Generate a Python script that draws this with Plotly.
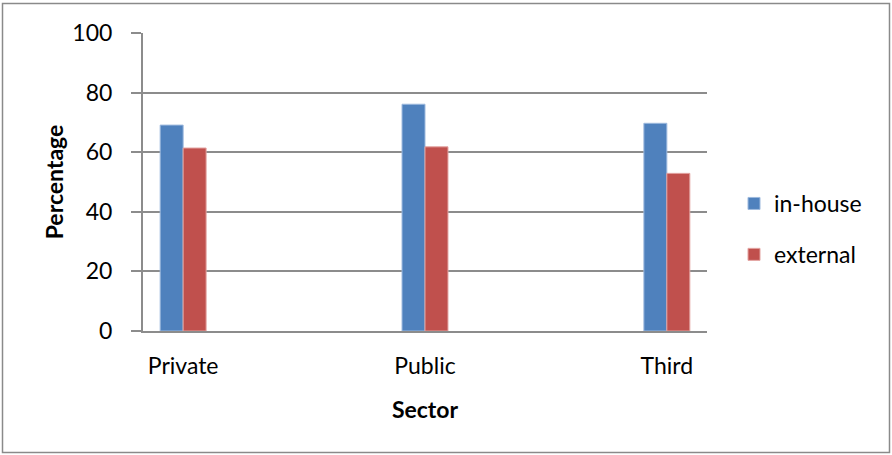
import plotly.graph_objects as go

categories = ["Private", "Public", "Third"]
in_house = [69.1, 76.1, 69.7]
external = [61.4, 61.8, 52.9]
y_ticks = [0, 20, 40, 60, 80, 100]

W, H = 892, 455
L, R, T, B = 143, 185, 33, 124
pw, ph = W - L - R, H - T - B

def px_x(x):
    return (x - L) / pw

def px_y(y):
    return (H - B - y) / ph

FONT = "Lato, 'Open Sans', sans-serif"
GRID = "#8c8c8c"
FS = 23

fig = go.Figure()
fig.add_trace(go.Bar(
    name="in-house", x=categories, y=in_house,
    marker=dict(color="#4F81BD", line=dict(color="#9DB9DE", width=1)),
    legendgroup="a",
))
fig.add_trace(go.Bar(
    name="external", x=categories, y=external,
    marker=dict(color="#C0504D", line=dict(color="#E3A3A1", width=1)),
    legendgroup="b",
))

fig.update_layout(
    width=W, height=H,
    margin=dict(l=L, r=R, t=T, b=B, autoexpand=False),
    paper_bgcolor="white", plot_bgcolor="white",
    barmode="group", bargap=0.81, bargroupgap=0,
    font=dict(family=FONT, size=FS, color="#000000"),
    showlegend=True,
    legend=dict(
        x=px_x(734), y=px_y(229), xanchor="left", yanchor="middle",
        font=dict(family=FONT, size=FS, color="#000000"),
        tracegroupgap=18, traceorder="grouped",
        bgcolor="rgba(0,0,0,0)", itemwidth=30,
    ),
    xaxis=dict(
        type="category", range=[-0.166, 2.166],
        showline=True, linecolor=GRID, linewidth=2,
        ticks="", showgrid=False, ticklabelstandoff=13,
        tickfont=dict(family=FONT, size=FS),
        title=dict(text="<b>Sector</b>", font=dict(family=FONT, size=FS), standoff=24),
    ),
    yaxis=dict(
        range=[0, 100], tickvals=y_ticks,
        showline=True, linecolor=GRID, linewidth=2,
        ticks="outside", ticklen=10, tickcolor=GRID, tickwidth=2,
        showgrid=True, gridcolor=GRID, gridwidth=2,
        zeroline=False, ticklabelstandoff=14,
        tickfont=dict(family=FONT, size=FS),
        title=dict(text="<b>Percentage</b>", font=dict(family=FONT, size=FS), standoff=2),
    ),
    shapes=[dict(
        type="rect", xref="paper", yref="paper",
        x0=px_x(2.5), x1=px_x(889.5), y0=px_y(452.5), y1=px_y(3.5),
        line=dict(color="#8a8a8a", width=1.5), fillcolor="rgba(0,0,0,0)", layer="below",
    )],
)

fig.write_html("out.html")
